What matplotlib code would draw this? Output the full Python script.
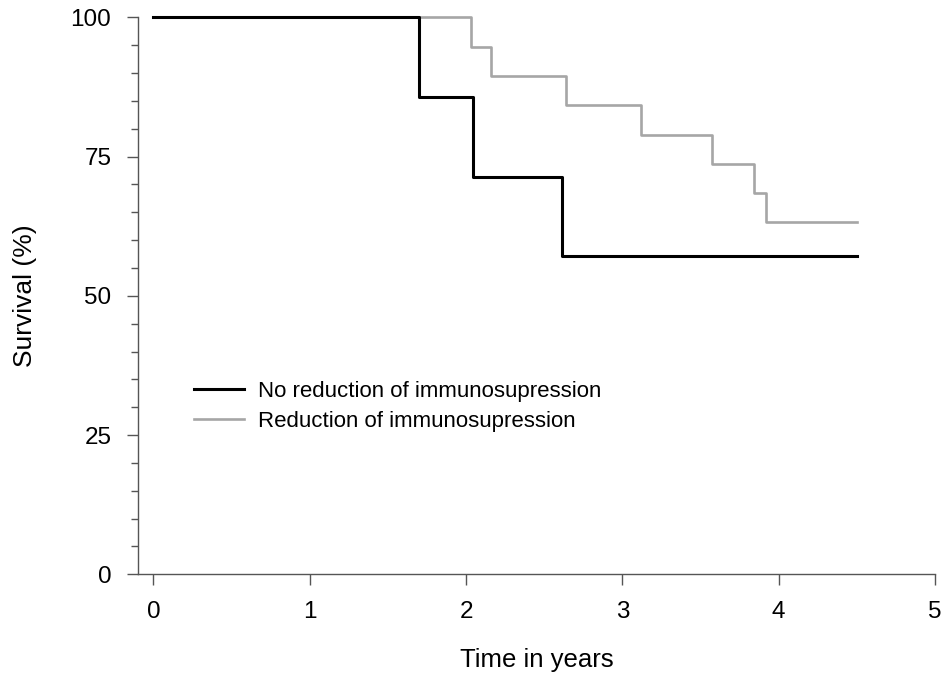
import matplotlib
matplotlib.use("Agg")
import matplotlib.pyplot as plt
from matplotlib.ticker import MultipleLocator

plt.rcParams["font.family"] = ["Liberation Sans", "DejaVu Sans"]

# Kaplan-Meier step data (time in years, survival %)
no_red_time = [0, 1.70, 2.045, 2.615, 4.5]
no_red_surv = [100, 85.7, 71.4, 57.1, 57.1]

red_time = [0, 2.03, 2.157, 2.64, 3.12, 3.576, 3.843, 3.917, 4.5]
red_surv = [100, 94.7, 89.5, 84.2, 78.9, 73.7, 68.4, 63.2, 63.2]

labels = ["No reduction of immunosupression", "Reduction of immunosupression"]
x_ticks = [0, 1, 2, 3, 4, 5]
y_ticks = [0, 25, 50, 75, 100]

fig = plt.figure(figsize=(9.44, 6.77), dpi=100)
ax = fig.add_axes([0.1459, 0.1517, 0.8446, 0.8227])

ax.step(no_red_time, no_red_surv, where="post", color="black", lw=2.2,
        label=labels[0], clip_on=False, zorder=3)
ax.step(red_time, red_surv, where="post", color="#a6a6a6", lw=1.9,
        label=labels[1], clip_on=False, zorder=2)

ax.set_xlim(-0.1, 5)
ax.set_ylim(0, 100)
ax.set_xticks(x_ticks)
ax.set_yticks(y_ticks)
ax.yaxis.set_minor_locator(MultipleLocator(5))

for side in ["top", "right"]:
    ax.spines[side].set_visible(False)
for side in ["left", "bottom"]:
    ax.spines[side].set_color("#555555")
    ax.spines[side].set_linewidth(1.0)

ax.tick_params(axis="both", which="major", direction="out", length=8,
               width=1.0, color="#555555", labelsize=17.5)
ax.tick_params(axis="y", which="minor", direction="out", length=5,
               width=1.0, color="#555555")
ax.tick_params(axis="x", pad=11)
ax.tick_params(axis="y", pad=11)

ax.set_xlabel("Time in years", fontsize=18.5, labelpad=18)
ax.set_ylabel("Survival (%)", fontsize=19, labelpad=24)

ax.legend(loc="upper left", bbox_to_anchor=(0.0706, 0.3466), frameon=False,
          fontsize=16, handlelength=2.25, handletextpad=0.63,
          labelspacing=0.39, borderpad=0, borderaxespad=0)

plt.savefig("out.png", dpi=100)
plt.close(fig)
